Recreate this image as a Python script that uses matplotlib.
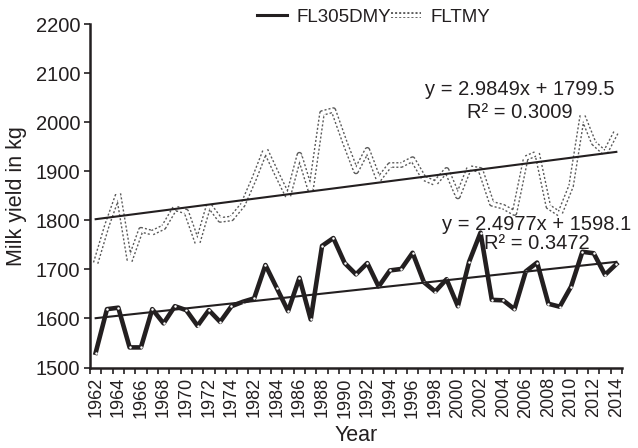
import numpy as np
import matplotlib
matplotlib.use("Agg")
import matplotlib.pyplot as plt
from matplotlib.lines import Line2D

plt.rcParams['font.family'] = ['Liberation Sans', 'DejaVu Sans']

INK = '#231f20'

years = list(range(1962, 1975)) + [1981] + list(range(1982, 2015))

fl305dmy = [1530, 1619, 1622, 1541, 1541, 1619, 1590, 1625, 1617, 1585, 1617, 1593, 1625, 1634, 1641,
            1709, 1662, 1615, 1683, 1598, 1748, 1764, 1713, 1690, 1713, 1665, 1698, 1701, 1734, 1674, 1655,
            1680, 1625, 1716, 1775, 1638, 1637, 1619, 1696, 1714, 1630, 1624, 1665, 1736, 1733, 1689, 1711]

fltmy = [1713, 1790, 1855, 1716, 1781, 1775, 1786, 1825, 1818, 1753, 1832, 1801, 1804, 1832, 1885,
         1944, 1895, 1848, 1934, 1859, 2019, 2025, 1960, 1900, 1944, 1883, 1913, 1913, 1925, 1886, 1876,
         1903, 1849, 1907, 1903, 1834, 1828, 1815, 1927, 1937, 1828, 1813, 1870, 2015, 1958, 1937, 1981]

# linear trends (x = 1..n as in the spreadsheet fit)
trend_fltmy = (2.9849, 1799.5, 0.3009)
trend_dmy = (2.4977, 1598.1, 0.3472)

n = len(years)
idx = np.arange(n)
xfit = idx + 1

fig = plt.figure(figsize=(6.38, 4.48), dpi=100)
ax = fig.add_axes([90 / 638, 1 - 367.5 / 448, 532 / 638, 343.2 / 448])

# hollow dotted line: dotted grey stroke with a white core
ax.plot(idx, fltmy, color='#5a5a5a', lw=4.2, dashes=(0.35, 0.35), solid_capstyle='butt', zorder=2)
ax.plot(idx, fltmy, color='white', lw=2.2, zorder=3)

ax.plot(idx, fl305dmy, color=INK, lw=3.3, zorder=4,
        marker='o', ms=1.8, mfc='white', mec='none')

for slope, icpt, _ in (trend_fltmy, trend_dmy):
    ax.plot(idx, slope * xfit + icpt, color=INK, lw=1.5, zorder=5)

eq_kw = dict(ha='center', va='center', fontsize=14.5, color=INK, zorder=6)
ax.text(37.5, 2068, f"y = {trend_fltmy[0]}x + {trend_fltmy[1]}", **eq_kw)
ax.text(37.5, 2020, f"R² = {trend_fltmy[2]:.4f}", **eq_kw)
ax.text(39.0, 1791, f"y = {trend_dmy[0]}x + {trend_dmy[1]}", **eq_kw)
ax.text(39.0, 1753.5, f"R² = {trend_dmy[2]:.4f}", **eq_kw)

ax.set_xlim(-0.5, n - 0.5)
ax.set_ylim(1500, 2200)
ax.set_yticks(range(1500, 2201, 100))

# ticks between categories, labels on every second category
ax.set_xticks(np.arange(-0.5, n, 1.0))
ax.set_xticklabels([])
ax.set_xticks(idx[::2], minor=True)
ax.set_xticklabels([str(y) for y in years[::2]], minor=True, rotation=90)
ax.tick_params(axis='x', which='minor', length=0, pad=7, labelsize=13, labelcolor=INK)
ax.tick_params(axis='x', which='major', length=4, width=1.2, color=INK)
ax.tick_params(axis='y', length=4, width=1.2, color=INK, labelsize=14.5, labelcolor=INK, pad=3)

for side in ('top', 'right'):
    ax.spines[side].set_visible(False)
for side in ('left', 'bottom'):
    ax.spines[side].set_linewidth(1.8)
    ax.spines[side].set_color(INK)

ax.set_ylabel('Milk yield in kg', fontsize=15.5, color=INK, labelpad=6)
ax.set_xlabel('Year', fontsize=15.5, color=INK, labelpad=5)

h_dmy = Line2D([], [], color=INK, lw=2.2)
h_tmy = (Line2D([], [], color='#5a5a5a', lw=4.2, dashes=(0.35, 0.35)),
         Line2D([], [], color='white', lw=2.2))
fig.legend([h_dmy, h_tmy], ['FL305DMY', 'FLTMY'], ncol=2, frameon=False,
           loc='center left', bbox_to_anchor=(248 / 638, 1 - 17 / 448),
           fontsize=13.5, handlelength=1.6, handletextpad=0.5, columnspacing=0.0,
           borderpad=0, labelcolor=INK)

fig.savefig('out.png', dpi=100, facecolor='white')
